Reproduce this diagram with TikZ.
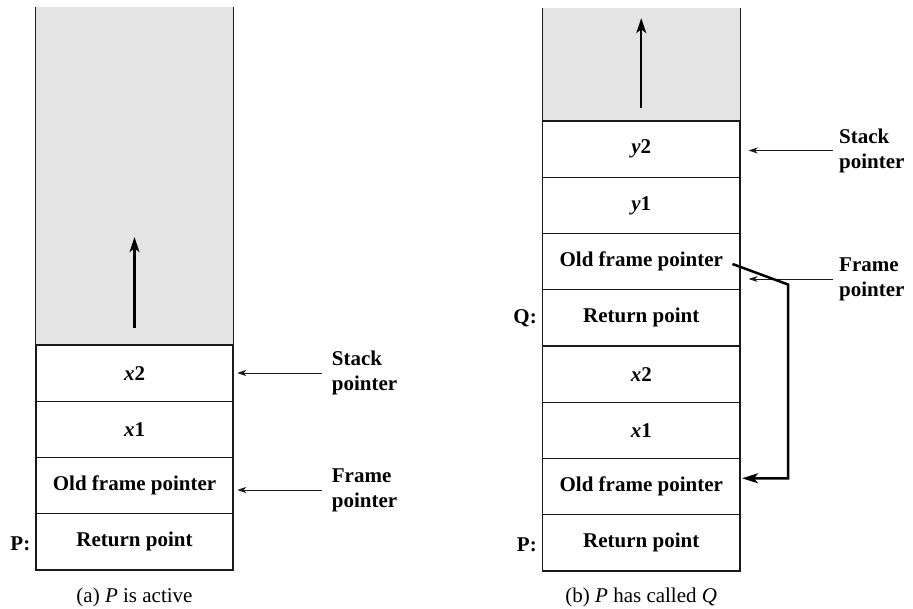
\documentclass[tikz,border=0pt]{standalone}
\usepackage{fontspec}
\setmainfont{Liberation Serif}
\usetikzlibrary{arrows.meta,calc}
\definecolor{freegray}{HTML}{E4E4E4}
\definecolor{ink}{HTML}{1A1A1A}
\begin{document}
\begin{tikzpicture}[x=1pt,y=-1pt,
  cell/.style={draw=ink, line width=1.1pt, minimum width=197pt, minimum height=56.25pt, inner sep=0pt, font=\fontsize{21}{25}\selectfont\bfseries},
  freearea/.style={fill=freegray, draw=none, minimum width=197pt, inner sep=0pt},
  side/.style={draw=ink, line width=1.1pt},
  lbl/.style={font=\fontsize{21}{25}\selectfont\bfseries, align=left, anchor=west, inner sep=0pt},
  tag/.style={font=\fontsize{21}{25}\selectfont\bfseries, anchor=east, inner sep=0pt},
  ptr/.style={-{Stealth[length=9pt,width=6pt,inset=2.5pt]}, line width=0.8pt, draw=ink},
  growarrow/.style={-{Stealth[length=15pt,width=10pt,inset=4pt]}, line width=2.2pt},
  linkarrow/.style={-{Stealth[length=16pt,width=10pt,inset=4pt]}, line width=2.5pt},
  captext/.style={font=\fontsize{21}{25}\selectfont, inner sep=0pt}
]
\useasboundingbox (0,0) rectangle (913,609);

% ---------- (a) ----------
\node[freearea, minimum height=338pt] (ag) at (134.5,176) {};
\draw[side] (ag.north west) -- (ag.south west);
\draw[side] (ag.north east) -- (ag.south east);
\node[cell] (a4) at (134.5,373.1) {\textit{x}2};
\node[cell] (a3) at (134.5,429.4) {\textit{x}1};
\node[cell] (a2) at (134.5,485.6) {Old frame pointer};
\node[cell] (a1) at (134.5,541.9) {Return point};
\draw[growarrow] ([yshift=17pt]ag.south) -- ([yshift=108pt]ag.south);
\node[tag] (ap) at ([xshift=-5pt,yshift=-2pt]a1.west) {P:};

\node[lbl] (asp) at (331.7,373) {Stack\\pointer};
\node[lbl] (afp) at (331.7,490) {Frame\\pointer};
\draw[ptr] ([xshift=-10pt]asp.west) -- ($(asp.west -| a4.east)+(3.7,0)$);
\draw[ptr] ([xshift=-10pt]afp.west) -- ($(afp.west -| a2.east)+(3.7,0)$);

\node[captext] (acap) at ([yshift=-27pt]a1.south) {(a) \textit{P} is active};

% ---------- (b) ----------
\node[freearea, minimum width=197.5pt, minimum height=113pt] (bg) at (641.25,64.5) {};
\draw[side] (bg.north west) -- (bg.south west);
\draw[side] (bg.north east) -- (bg.south east);
\node[cell, minimum width=197.5pt] (b8) at (641.25,149.1) {\textit{y}2};
\node[cell, minimum width=197.5pt] (b7) at (641.25,205.4) {\textit{y}1};
\node[cell, minimum width=197.5pt] (b6) at (641.25,261.6) {Old frame pointer};
\node[cell, minimum width=197.5pt] (b5) at (641.25,317.9) {Return point};
\node[cell, minimum width=197.5pt] (b4) at (641.25,374.1) {\textit{x}2};
\node[cell, minimum width=197.5pt] (b3) at (641.25,430.4) {\textit{x}1};
\node[cell, minimum width=197.5pt] (b2) at (641.25,486.6) {Old frame pointer};
\node[cell, minimum width=197.5pt] (b1) at (641.25,542.9) {Return point};
\draw[growarrow] ([yshift=13pt]bg.south) -- ([yshift=103pt]bg.south);
\node[tag] (bq) at ([xshift=-5pt]b5.west) {Q:};
\node[tag] (bp) at ([xshift=-5pt,yshift=-2pt]b1.west) {P:};

\node[lbl] (bsp) at (839,150.5) {Stack\\pointer};
\node[lbl] (bfp) at (839,279) {Frame\\pointer};
\draw[ptr] ([xshift=-6pt]bsp.west) -- ($(bsp.west -| b8.east)+(8,0)$);
\draw[ptr] ([xshift=-6pt]bfp.west) -- ($(bfp.west -| b6.east)+(8,0)$);

\coordinate (src) at (732.5,264);
\coordinate (bend) at (788,284.5);
\coordinate (dst) at ([xshift=1.5pt,yshift=8.3pt]b2.east);
\draw[linkarrow] (src) -- (bend) -- (bend |- dst) -- (dst);

\node[captext] (bcap) at ([yshift=-26pt]b1.south) {(b) \textit{P} has called \textit{Q}};
\end{tikzpicture}
\end{document}
